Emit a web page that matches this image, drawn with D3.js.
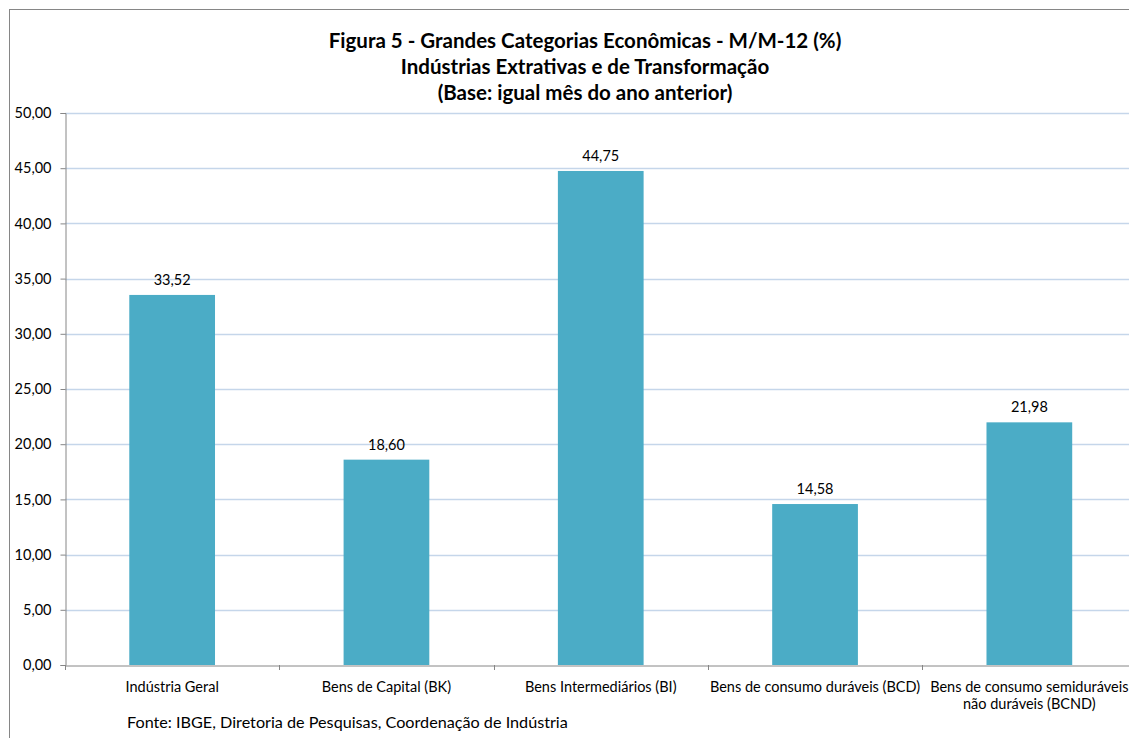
<!DOCTYPE html>
<html><head><meta charset="utf-8">
<script src="https://cdn.jsdelivr.net/npm/d3@7"></script>
<style>body{margin:0;background:#fff;font-family:Lato,"Open Sans",sans-serif;}</style>
</head><body>
<svg id="c" width="1129" height="738"></svg>
<script>
const categories = ["Indústria Geral","Bens de Capital (BK)","Bens Intermediários (BI)","Bens de consumo duráveis (BCD)","Bens de consumo semiduráveis|não duráveis (BCND)"];
const values = [33.52, 18.60, 44.75, 14.58, 21.98];
const yTicks = [0,5,10,15,20,25,30,35,40,45,50];
const titleLines = ["Figura 5 - Grandes Categorias Econômicas - M/M-12 (%)","Indústrias Extrativas e de Transformação","(Base: igual mês do ano anterior)"];
const source = "Fonte: IBGE, Diretoria de Pesquisas, Coordenação de Indústria";

(function(){
const svg = d3.select("#c");
const fmt = v => v.toFixed(2).replace(".", ",");
const pLeft = 65, pRight = 1136.5, pTop = 113, pBottom = 665;

svg.append("rect").attr("x",9.5).attr("y",9.5).attr("width",1140).attr("height",740)
  .attr("fill","#fff").attr("stroke","#868686").attr("stroke-width",1);

const x = d3.scaleBand().domain(categories).range([pLeft,pRight]).paddingInner(0.6).paddingOuter(0.3);
const xb = d3.scaleBand().domain(categories).range([pLeft,pRight]);
const y = d3.scaleLinear().domain([0,50]).range([pBottom,pTop]);

svg.append("g").selectAll("line").data(yTicks.filter(d=>d>0)).join("line")
  .attr("x1",pLeft).attr("x2",1129).attr("y1",d=>Math.round(y(d))+0.5).attr("y2",d=>Math.round(y(d))+0.5)
  .attr("stroke","#c5d6ea").attr("stroke-width",1.5);

const yAxis = svg.append("g").attr("transform",`translate(${pLeft+0.5},0)`)
  .call(d3.axisLeft(y).tickValues(yTicks).tickFormat(fmt).tickSize(5).tickPadding(9));
yAxis.select(".domain").attr("stroke","#868686");
yAxis.selectAll(".tick line").attr("stroke","#868686");
yAxis.selectAll("text").attr("font-size",14.5).attr("fill","#000").attr("font-family","Lato, sans-serif");

svg.append("g").selectAll("rect").data(values).join("rect")
  .attr("x",(d,i)=>x(categories[i])).attr("width",x.bandwidth())
  .attr("y",d=>y(d)).attr("height",d=>y(0)-y(d)).attr("fill","#4bacc6");

svg.append("g").selectAll("text").data(values).join("text")
  .attr("x",(d,i)=>x(categories[i])+x.bandwidth()/2).attr("y",d=>y(d)-10)
  .attr("text-anchor","middle").attr("font-size",14.5).attr("fill","#000").text(fmt);

const xAxis = svg.append("g").attr("transform",`translate(0,${pBottom+0.5})`)
  .call(d3.axisBottom(xb).tickSize(0).tickFormat(""));
xAxis.select(".domain").attr("stroke","#868686");
svg.append("g").selectAll("line").data(categories).join("line")
  .attr("x1",d=>Math.round(xb(d))+0.5).attr("x2",d=>Math.round(xb(d))+0.5)
  .attr("y1",pBottom).attr("y2",pBottom+5).attr("stroke","#868686");

const lab = svg.append("g").selectAll("text").data(categories).join("text")
  .attr("x",d=>xb(d)+xb.bandwidth()/2).attr("y",692)
  .attr("text-anchor","middle").attr("font-size",14.5).attr("fill","#000");
lab.each(function(d){
  const parts = d.split("|");
  const sx = d3.select(this).attr("x");
  d3.select(this).selectAll("tspan").data(parts).join("tspan")
    .attr("x",sx).attr("dy",(p,i)=>i?17:0).text(p=>p);
});

svg.append("g").selectAll("text").data(titleLines).join("text")
  .attr("x",585).attr("y",(d,i)=>48+i*26).attr("text-anchor","middle")
  .attr("font-size",20.5).attr("font-weight","bold").attr("fill","#000").text(d=>d);

svg.append("text").attr("x",127).attr("y",728).attr("font-size",16.2).attr("fill","#000").text(source);
})();
</script>
</body></html>
